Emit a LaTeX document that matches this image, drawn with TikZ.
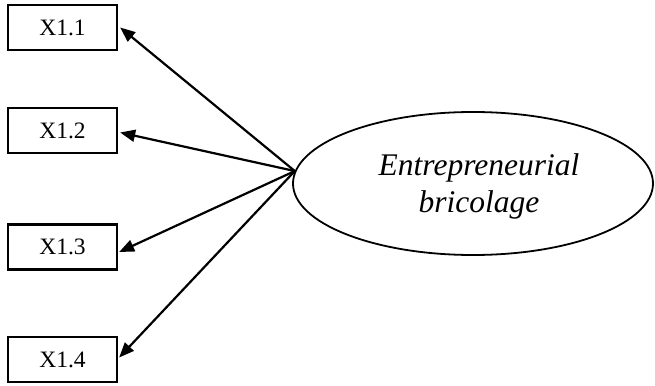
\documentclass[tikz,border=0pt]{standalone}
\usepackage{fontspec}
\setmainfont{Liberation Serif}
\usetikzlibrary{arrows.meta,shapes.geometric}
\begin{document}
\begin{tikzpicture}[x=1pt,y=-1pt,
  indbox/.style={draw,line width=2.3pt,minimum width=109pt,minimum height=45pt,inner sep=0pt,font=\fontsize{23.5}{27}\selectfont},
  latent/.style={draw,ellipse,line width=1.8pt,minimum width=360pt,minimum height=143pt,inner sep=0pt},
  lbltext/.style={align=center,inner sep=0pt,font=\fontsize{31.5}{37}\selectfont\itshape},
  loadarrow/.style={line width=2.2pt,-{Triangle[length=15pt,width=12pt]}}]
\useasboundingbox (0,0) rectangle (655,385);
\node[indbox] (b1) at (62.5,27.5) {X1.1};
\node[indbox] (b2) at (62.5,130.5) {X1.2};
\node[indbox] (b3) at (62.5,247) {X1.3};
\node[indbox] (b4) at (62.5,359.5) {X1.4};
\node[latent] (E) at (473,183.5) {};
\node[lbltext] (lbl) at (479,186) {Entrepreneurial\\bricolage};
\coordinate (src) at (E.176.5);
\draw[loadarrow] (src) -- ([xshift=2pt]b1.east);
\draw[loadarrow] (src) -- ([xshift=2pt,yshift=-2pt]b2.east);
\draw[loadarrow] (src) -- ([xshift=1pt,yshift=-5pt]b3.east);
\draw[loadarrow] (src) -- ([xshift=1pt,yshift=2pt]b4.east);
\end{tikzpicture}
\end{document}
